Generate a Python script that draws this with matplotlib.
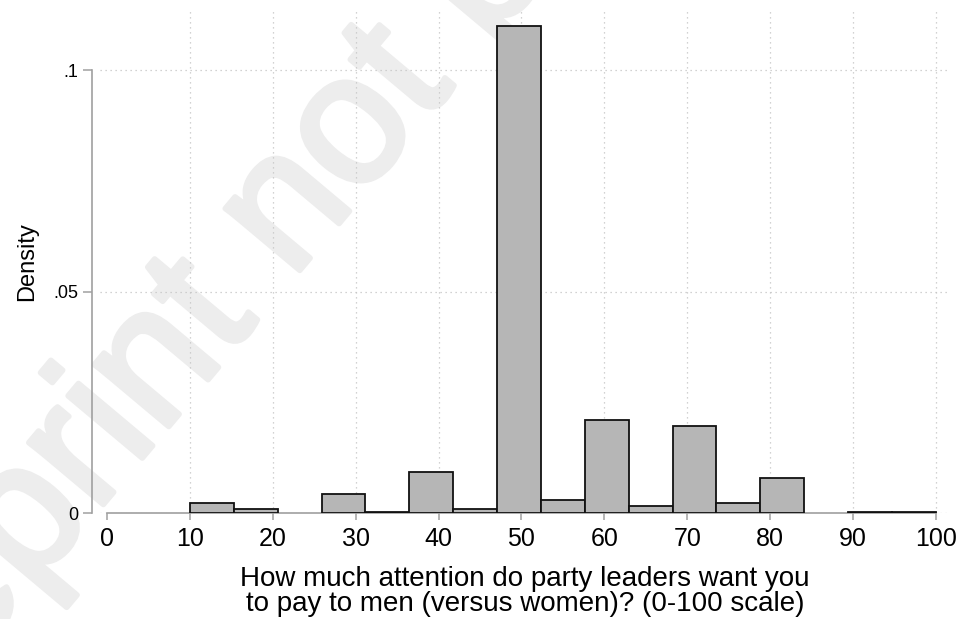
import matplotlib
matplotlib.use("Agg")
import matplotlib.pyplot as plt
import matplotlib.patheffects as pe
import numpy as np

# histogram: 17 bins from 10 to 100, density
bin_edges = np.linspace(10, 100, 18)
densities = [0.0023, 0.0009, 0.0, 0.0042, 0.0002, 0.0093, 0.0008, 0.1099,
             0.0029, 0.0210, 0.0016, 0.0197, 0.0023, 0.0080, 0.0, 0.0003, 0.0003]

x_ticks = [0, 10, 20, 30, 40, 50, 60, 70, 80, 90, 100]
y_ticks = [0, 0.05, 0.1]
y_tick_labels = ["0", ".05", ".1"]

x_title = "How much attention do party leaders want you\nto pay to men (versus women)? (0-100 scale)"
y_title = "Density"
watermark = "Preprint not peer reviewed"

plt.rcParams['font.family'] = ['Liberation Sans', 'DejaVu Sans']

fig = plt.figure(figsize=(9.61, 6.19), dpi=100)
ax = fig.add_axes([100 / 961, 1 - 513 / 619, 850 / 961, 503 / 619])

# watermark behind everything (regular weight, thickened a bit)
wm_color = '#ededed'
fig.text(-0.16, -0.31, watermark, fontsize=132, color=wm_color,
         rotation=50, rotation_mode='anchor', ha='left', va='baseline',
         transform=fig.transFigure, zorder=0,
         path_effects=[pe.withStroke(linewidth=4, foreground=wm_color)])
ax.set_facecolor('none')
ax.set_zorder(1)

lefts = bin_edges[:-1]
widths = np.diff(bin_edges)
d = np.array(densities)
keep = d > 0
ax.bar(lefts[keep], d[keep], width=widths[keep], align='edge',
       color='#b6b6b6', edgecolor='#111111', linewidth=1.3, zorder=3)

ax.set_xlim(-0.84, 101.7)
ax.set_ylim(0, 0.1136)

ax.set_xticks(x_ticks)
ax.set_yticks(y_ticks)
ax.set_yticklabels(y_tick_labels)

grid_kw = dict(color='#c4c4c4', linestyle=(0, (1, 3)), linewidth=0.9)
ax.grid(True, axis='both', zorder=0, **grid_kw)
ax.get_xgridlines()[0].set_visible(False)
ax.set_axisbelow(True)

for side in ['top', 'right']:
    ax.spines[side].set_visible(False)
ax.spines['bottom'].set_bounds(0, 100)
ax.spines['left'].set_bounds(0, 0.1)
ax.spines['left'].set_position(('outward', 5.8))
for side in ['bottom', 'left']:
    ax.spines[side].set_color('#a0a0a0')
    ax.spines[side].set_linewidth(1.2)

ax.tick_params(axis='x', direction='out', length=5, width=1.1, color='#a0a0a0',
               labelsize=18, pad=5)
ax.tick_params(axis='y', direction='out', length=6.5, width=1.1, color='#a0a0a0',
               labelsize=13, pad=3.5)

ax.set_xlabel(x_title, fontsize=20, linespacing=0.95, labelpad=11)
ax.set_ylabel(y_title, fontsize=17, labelpad=11)

fig.savefig("out.png", dpi=100)
